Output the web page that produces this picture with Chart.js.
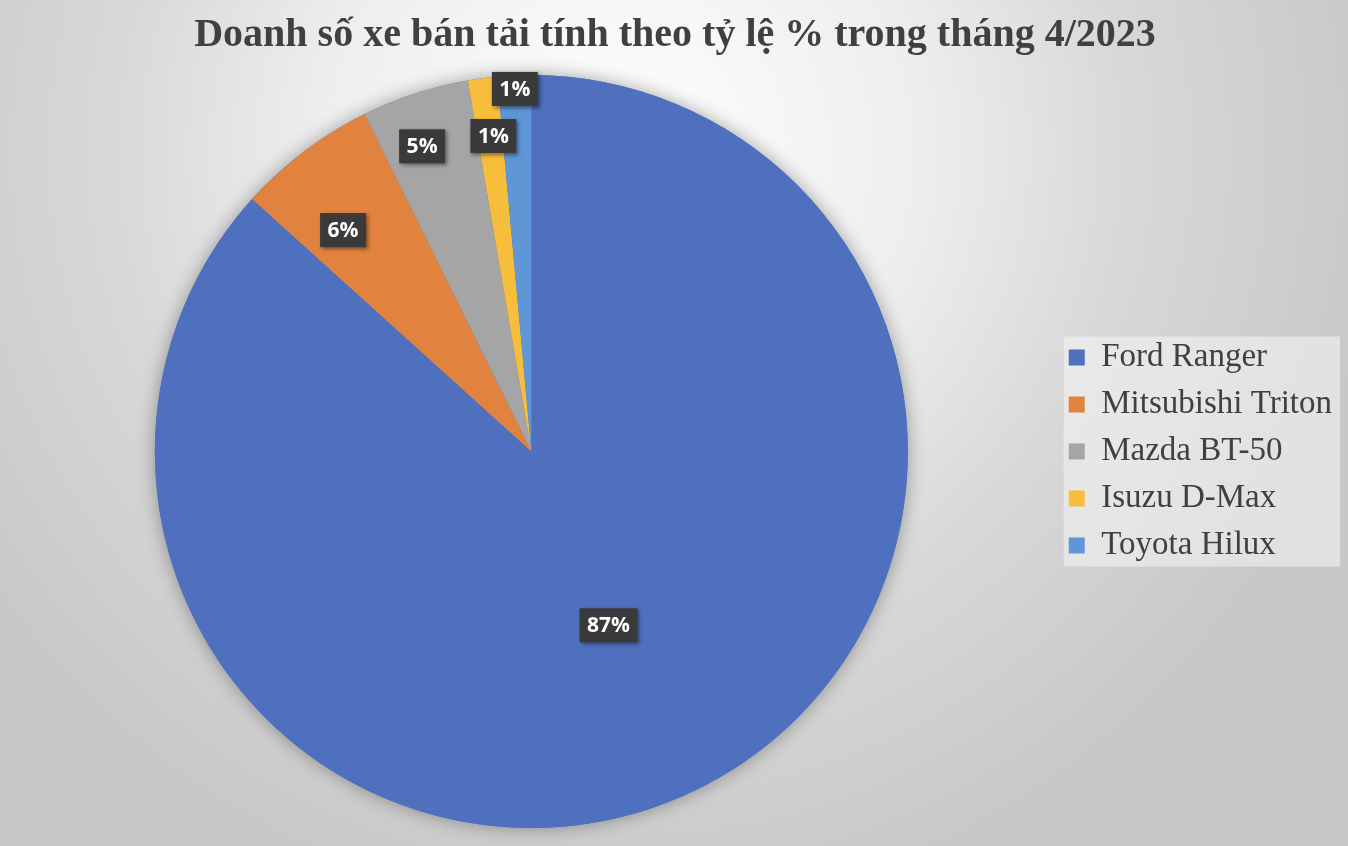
<!DOCTYPE html>
<html>
<head>
<meta charset="utf-8">
<script src="https://cdn.jsdelivr.net/npm/chart.js@4.4.0/dist/chart.umd.min.js"></script>
<style>
  html, body { margin: 0; padding: 0; }
  body {
    width: 1348px; height: 846px; overflow: hidden;
    background: radial-gradient(circle 850px at 620px 150px, #ffffff 0%, #eeeeee 35%, #d8d8d8 60%, #c8c8c8 90%);
  }
  #wrap { position: relative; width: 1348px; height: 846px; }
</style>
</head>
<body>
<div id="wrap"><canvas id="c"></canvas></div>
<script>
const titleText = 'Doanh số xe bán tải tính theo tỷ lệ % trong tháng 4/2023';
const categories = ['Ford Ranger', 'Mitsubishi Triton', 'Mazda BT-50', 'Isuzu D-Max', 'Toyota Hilux'];
const shares = [86.7, 6.0, 4.6, 1.25, 1.45];
const sliceColors = ['#4F70BE', '#E1833F', '#A5A5A5', '#F6BE3A', '#5E96D6'];

const LEGEND_SHIFT = 6;

const pieShadow = {
  id: 'pieShadow',
  beforeDatasetsDraw(chart) {
    const arc = chart.getDatasetMeta(0).data[0];
    if (!arc) return;
    const ctx = chart.ctx;
    ctx.save();
    ctx.shadowColor = 'rgba(0,0,0,0.35)';
    ctx.shadowBlur = 18;
    ctx.fillStyle = sliceColors[0];
    ctx.beginPath();
    ctx.arc(arc.x, arc.y, arc.outerRadius, 0, Math.PI * 2);
    ctx.fill();
    ctx.restore();
  }
};

const legendBox = {
  id: 'legendBox',
  afterLayout(chart) {
    const lg = chart.legend;
    if (!lg) return;
    lg.left -= LEGEND_SHIFT;
    lg.right -= LEGEND_SHIFT;
  },
  beforeDraw(chart) {
    const lg = chart.legend;
    if (!lg) return;
    const ctx = chart.ctx;
    const cy = (lg.top + lg.bottom) / 2;
    ctx.save();
    ctx.fillStyle = 'rgba(246,246,246,0.55)';
    ctx.fillRect(lg.left + 3 + LEGEND_SHIFT, cy - 115, lg.width - 11, 230);
    ctx.restore();
  }
};

const boxLabels = {
  id: 'boxLabels',
  afterDatasetsDraw(chart, args, opts) {
    const ctx = chart.ctx;
    const meta = chart.getDatasetMeta(0);
    const vals = chart.data.datasets[0].data;
    const total = vals.reduce((a, b) => a + b, 0);
    ctx.save();
    ctx.font = 'bold 21px "Open Sans"';
    ctx.textAlign = 'center';
    ctx.textBaseline = 'middle';
    meta.data.forEach((arc, i) => {
      const mid = (arc.startAngle + arc.endAngle) / 2 + (opts.angleShift[i] || 0) * Math.PI / 180;
      const r = arc.outerRadius * opts.radius[i];
      const x = arc.x + Math.cos(mid) * r;
      const y = arc.y + Math.sin(mid) * r;
      const txt = Math.round(vals[i] / total * 100) + '%';
      const w = ctx.measureText(txt).width + 15;
      const h = 34;
      ctx.save();
      ctx.shadowColor = 'rgba(0,0,0,0.45)';
      ctx.shadowBlur = 4;
      ctx.shadowOffsetX = 2;
      ctx.shadowOffsetY = 2;
      ctx.fillStyle = '#3a3a3a';
      ctx.fillRect(x - w / 2, y - h / 2, w, h);
      ctx.restore();
      ctx.fillStyle = '#ffffff';
      ctx.fillText(txt, x, y + 1);
    });
    ctx.restore();
  }
};

new Chart(document.getElementById('c'), {
  type: 'pie',
  data: {
    labels: categories,
    datasets: [{
      data: shares,
      backgroundColor: sliceColors,
      borderWidth: 0,
      hoverOffset: 0
    }]
  },
  options: {
    responsive: true,
    maintainAspectRatio: false,
    animation: false,
    layout: { padding: { left: 2, right: 0, top: 0, bottom: 18 } },
    plugins: {
      title: {
        display: true,
        text: titleText,
        color: '#404040',
        font: { family: '"Liberation Serif", "Times New Roman", serif', size: 40, weight: 'bold' },
        padding: { top: 12, bottom: 15 }
      },
      legend: {
        position: 'right',
        fullSize: false,
        labels: {
          color: '#404040',
          font: { family: '"Liberation Serif", "Times New Roman", serif', size: 33 },
          boxWidth: 16,
          boxHeight: 16,
          padding: 14
        }
      },
      tooltip: { enabled: false },
      boxLabels: {
        radius: [0.505, 0.772, 0.861, 0.844, 0.964],
        angleShift: [0, -3.3, -1.7, 0.6, 0]
      }
    }
  },
  plugins: [pieShadow, legendBox, boxLabels]
});
</script>
</body>
</html>
